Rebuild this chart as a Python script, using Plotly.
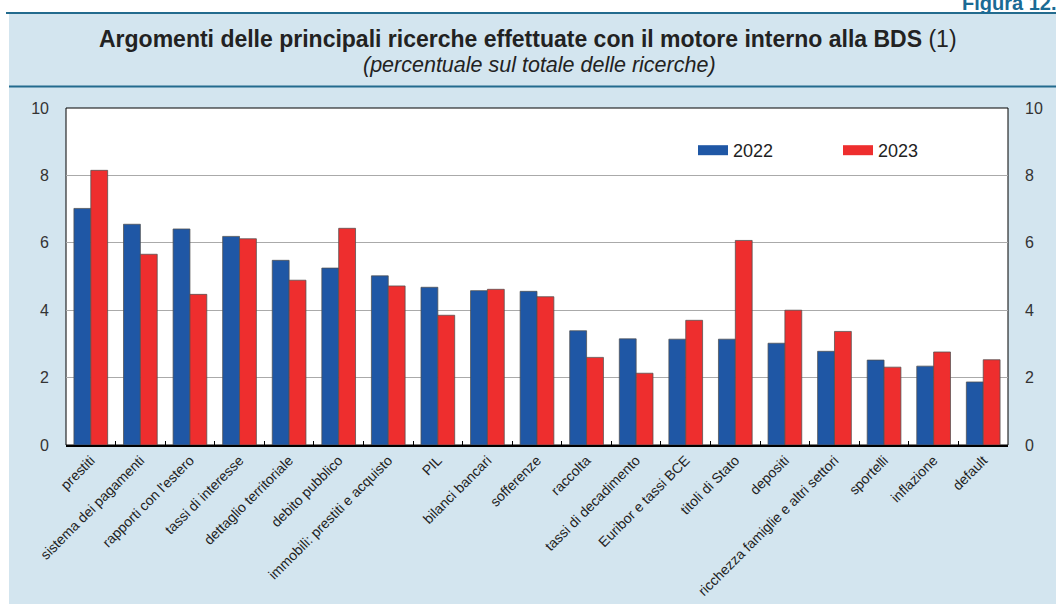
import plotly.graph_objects as go

categories = ["prestiti", "sistema dei pagamenti", "rapporti con l'estero", "tassi di interesse",
              "dettaglio territoriale", "debito pubblico", "immobili: prestiti e acquisto", "PIL",
              "bilanci bancari", "sofferenze", "raccolta", "tassi di decadimento",
              "Euribor e tassi BCE", "titoli di Stato", "depositi",
              "ricchezza famiglie e altri settori", "sportelli", "inflazione", "default"]
values_2022 = [7.02, 6.55, 6.41, 6.19, 5.48, 5.25, 5.02, 4.68, 4.58, 4.56,
               3.39, 3.15, 3.14, 3.14, 3.02, 2.78, 2.52, 2.34, 1.87]
values_2023 = [8.15, 5.66, 4.47, 6.12, 4.89, 6.43, 4.72, 3.85, 4.62, 4.40,
               2.60, 2.13, 3.70, 6.07, 4.00, 3.37, 2.31, 2.76, 2.53]
series_names = ["2022", "2023"]
y_ticks = [0, 2, 4, 6, 8, 10]

BLUE = "#1f57a5"
RED = "#ee2e2e"
TEAL = "#236b8e"
BG = "#d3e5ef"

W, H = 1056, 604
L, R, T, B = 66, 48, 108, 159
pw, ph = W - L - R, H - T - B


def px_x(px):
    return (px - L) / pw


def px_y(py):
    return (H - B - py) / ph


fig = go.Figure()
for name, vals, col in [(series_names[0], values_2022, BLUE), (series_names[1], values_2023, RED)]:
    fig.add_trace(go.Bar(x=categories, y=vals, name=name, marker_color=col,
                         marker_line=dict(color="rgba(80,80,80,0.75)", width=1),
                         showlegend=False))
# legend swatches (wide rectangles as in reference)
for name, col in [(series_names[0], BLUE), (series_names[1], RED)]:
    fig.add_trace(go.Scatter(x=[categories[0]], y=[None], mode="lines", name=name,
                             line=dict(color=col, width=10), showlegend=True, hoverinfo="skip"))
# invisible trace for right axis
fig.add_trace(go.Scatter(x=[categories[0]], y=[0], yaxis="y2", mode="markers",
                         marker=dict(opacity=0), showlegend=False, hoverinfo="skip"))

shapes = [
    dict(type="rect", xref="paper", yref="paper", x0=px_x(9), x1=px_x(W + 2), y0=px_y(H + 2), y1=px_y(14),
         fillcolor=BG, line_width=0, layer="below"),
    dict(type="rect", xref="paper", yref="paper", x0=0, x1=1, y0=0, y1=1,
         fillcolor="white", line=dict(color="black", width=1), layer="below"),
    dict(type="line", xref="paper", yref="paper", x0=px_x(6), x1=px_x(W + 2), y0=px_y(13), y1=px_y(13),
         line=dict(color=TEAL, width=2)),
    dict(type="line", xref="paper", yref="paper", x0=px_x(9), x1=px_x(W + 2), y0=px_y(86.5), y1=px_y(86.5),
         line=dict(color=TEAL, width=2)),
]

annotations = [
    dict(text="<b>Figura 12.</b>", xref="paper", yref="paper", x=px_x(1058), y=px_y(16),
         xanchor="right", yanchor="bottom", showarrow=False,
         font=dict(family="Liberation Sans, Arial", size=20, color="#1b6a94")),
    dict(text="<b>Argomenti delle principali ricerche effettuate con il motore interno alla BDS</b> (1)",
         xref="paper", yref="paper", x=px_x(528), y=px_y(39), xanchor="center", yanchor="middle",
         showarrow=False, font=dict(family="Liberation Sans, Arial", size=23, color="#222222")),
    dict(text="<i>(percentuale sul totale delle ricerche)</i>",
         xref="paper", yref="paper", x=px_x(539), y=px_y(65), xanchor="center", yanchor="middle",
         showarrow=False, font=dict(family="Liberation Sans, Arial", size=21.5, color="#222222")),
]

fig.update_layout(
    width=W, height=H,
    margin=dict(l=L, r=R, t=T, b=B, autoexpand=False),
    paper_bgcolor="white",
    plot_bgcolor="rgba(0,0,0,0)",
    barmode="group",
    bargap=0.32,
    bargroupgap=0,
    font=dict(family="Liberation Sans, Arial", size=15, color="#333333"),
    showlegend=True,
    legend=dict(orientation="h", x=px_x(693), y=px_y(132), xanchor="left", yanchor="top",
                bgcolor="rgba(0,0,0,0)", font=dict(size=18, color="#222222"),
                entrywidth=100, entrywidthmode="pixels", tracegroupgap=0),
    xaxis=dict(type="category", range=[-0.5, len(categories) - 0.5], tickangle=-45,
               tickfont=dict(size=14, color="#222222"),
               ticks="inside", tickson="boundaries", ticklen=4, tickcolor="black",
               showgrid=False, showline=True, linecolor="black", linewidth=1.5, mirror=False,
               zeroline=False, automargin=False),
    yaxis=dict(range=[0, 10], tickvals=y_ticks, showgrid=True, gridcolor="#aaaaaa", gridwidth=1.3,
               zeroline=False, showline=False, ticks="", ticklabelstandoff=16, automargin=False,
               tickfont=dict(size=16, color="#333333")),
    yaxis2=dict(range=[0, 10], tickvals=y_ticks, overlaying="y", side="right", showgrid=False,
                zeroline=False, showline=False, ticks="", ticklabelstandoff=16, automargin=False,
                tickfont=dict(size=16, color="#333333")),
    shapes=shapes,
    annotations=annotations,
)

fig.write_html("out.html", config={"displayModeBar": False},
               post_script="document.body.style.margin='0';document.body.style.overflow='hidden';")
